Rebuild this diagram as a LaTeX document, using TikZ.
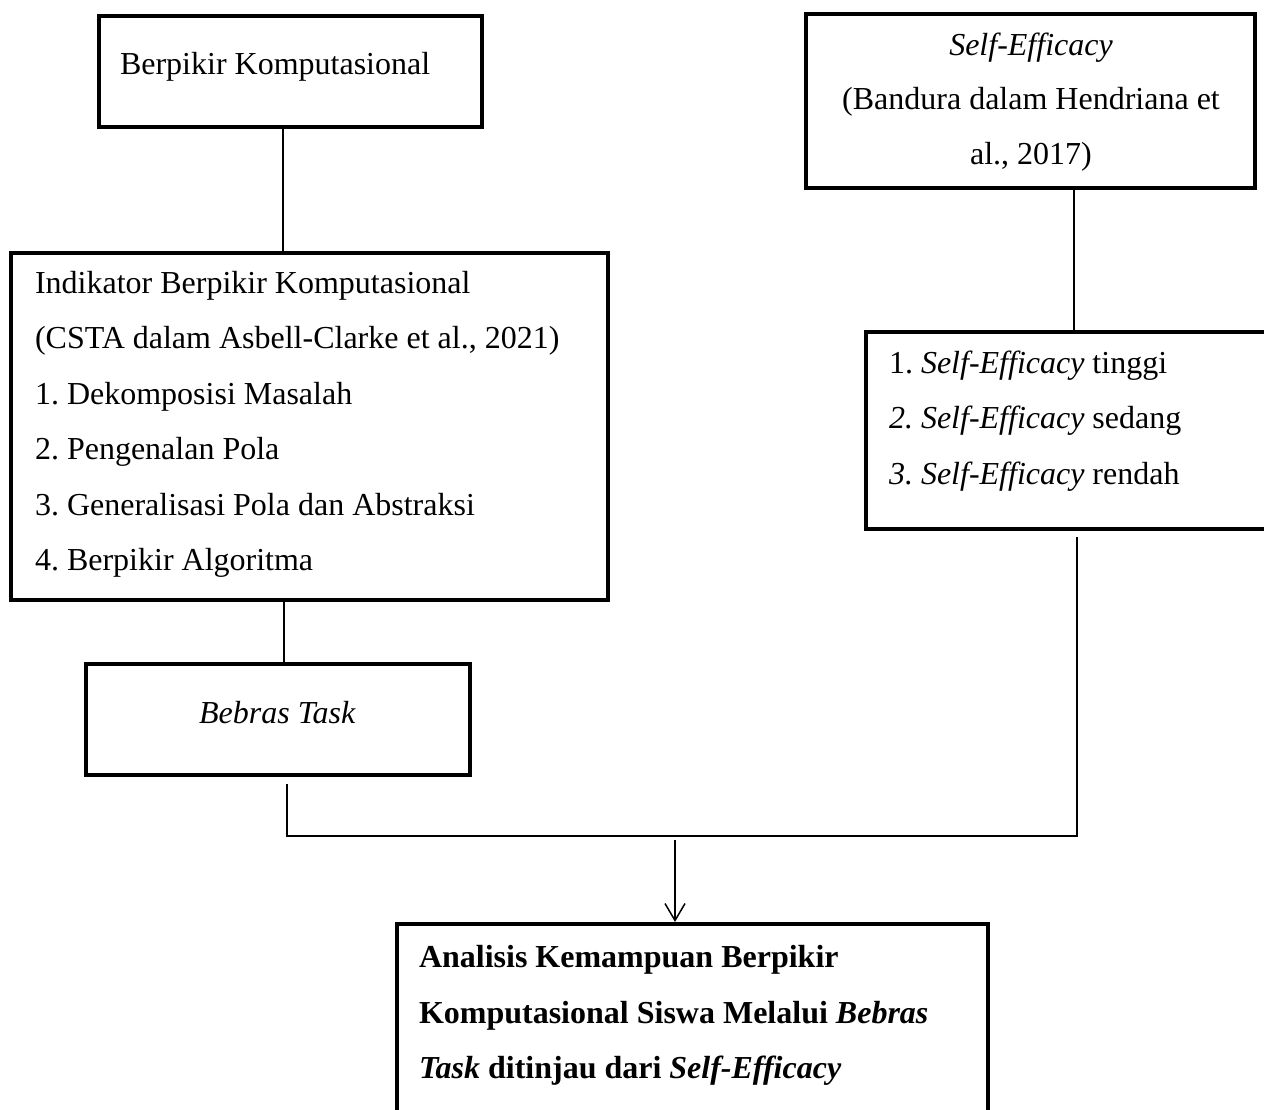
\documentclass[tikz,border=0pt]{standalone}
\usepackage{fontspec}
\setmainfont{Liberation Serif}
\usetikzlibrary{arrows.meta}
\frenchspacing
\begin{document}
\begin{tikzpicture}[x=1pt,y=-1pt,
  box/.style={draw=black, line width=4pt, rectangle, inner sep=0pt, outer sep=0pt},
  txt/.style={inner sep=0pt, outer sep=0pt, font=\fontsize{32}{38}\selectfont},
  lw/.style={txt, anchor=base west},
  lc/.style={txt, anchor=base},
  conn/.style={draw=black, line width=1.5pt},
  arr/.style={conn, -{Straight Barb[length=17pt,width=20pt]}}
]
\useasboundingbox[fill=white] (0,0) rectangle (1264,1110);

% boxes
\node[box, minimum width=383pt, minimum height=111pt] (b1) at (290.4,71.5) {};
\node[box, minimum width=449pt, minimum height=174pt] (b2) at (1030.5,101) {};
\node[box, minimum width=597pt, minimum height=347pt] (b3) at (309.5,426.5) {};
\node[box, minimum width=402.5pt, minimum height=197.5pt] (b4) at (1066.75,430.25) {};
\node[box, minimum width=384pt, minimum height=111pt] (b5) at (277.5,719.5) {};
\node[box, minimum width=591pt, minimum height=191pt] (b6) at (692.5,1019.5) {};

% texts
\node[lw] (t1) at (120,75) {Berpikir Komputasional};

\node[lc] (t2a) at (1031,56) {\textit{Self-Efficacy}};
\node[lc] (t2b) at (1031,110) {(Bandura dalam Hendriana et};
\node[lc] (t2c) at (1031,165) {al., 2017)};

\node[lw] (t3a) at (35,293) {Indikator Berpikir Komputasional};
\node[lw] (t3b) at (35,348.5) {(CSTA dalam Asbell-Clarke et al., 2021)};
\node[lw] (t3c) at (35,404) {1. Dekomposisi Masalah};
\node[lw] (t3d) at (35,459.5) {2. Pengenalan Pola};
\node[lw] (t3e) at (35,515) {3. Generalisasi Pola dan Abstraksi};
\node[lw] (t3f) at (35,570) {4. Berpikir Algoritma};

\node[lw] (t4a) at (889,373) {1. \textit{Self-Efficacy} tinggi};
\node[lw] (t4b) at (889,428.5) {\textit{2. Self-Efficacy} sedang};
\node[lw] (t4c) at (889,484) {\textit{3. Self-Efficacy} rendah};

\node[lc] (t5) at (277.5,723) {\textit{Bebras Task}};

\node[lw] (t6a) at (419,967) {\textbf{Analisis Kemampuan Berpikir}};
\node[lw] (t6b) at (419,1023) {\textbf{Komputasional Siswa Melalui \textit{Bebras}}};
\node[lw] (t6c) at (419,1078) {\textbf{\textit{Task} ditinjau dari \textit{Self-Efficacy}}};

% connector coordinates
\coordinate (x1) at (283,0);
\coordinate (x2) at (1074,0);
\coordinate (x3) at (284,0);
\coordinate (l1) at (287,784);
\coordinate (r1) at (1077,537);
\coordinate (mid) at (675,836);
\coordinate (a0) at (675,840);

\draw[conn] (b1.south -| x1) -- (b3.north -| x1);
\draw[conn] (b2.south -| x2) -- (b4.north -| x2);
\draw[conn] (b3.south -| x3) -- (b5.north -| x3);
\draw[conn] (l1) |- (mid) -| (r1);
\draw[arr, shorten >=2pt] (a0) -- (a0 |- b6.north);
\end{tikzpicture}
\end{document}
